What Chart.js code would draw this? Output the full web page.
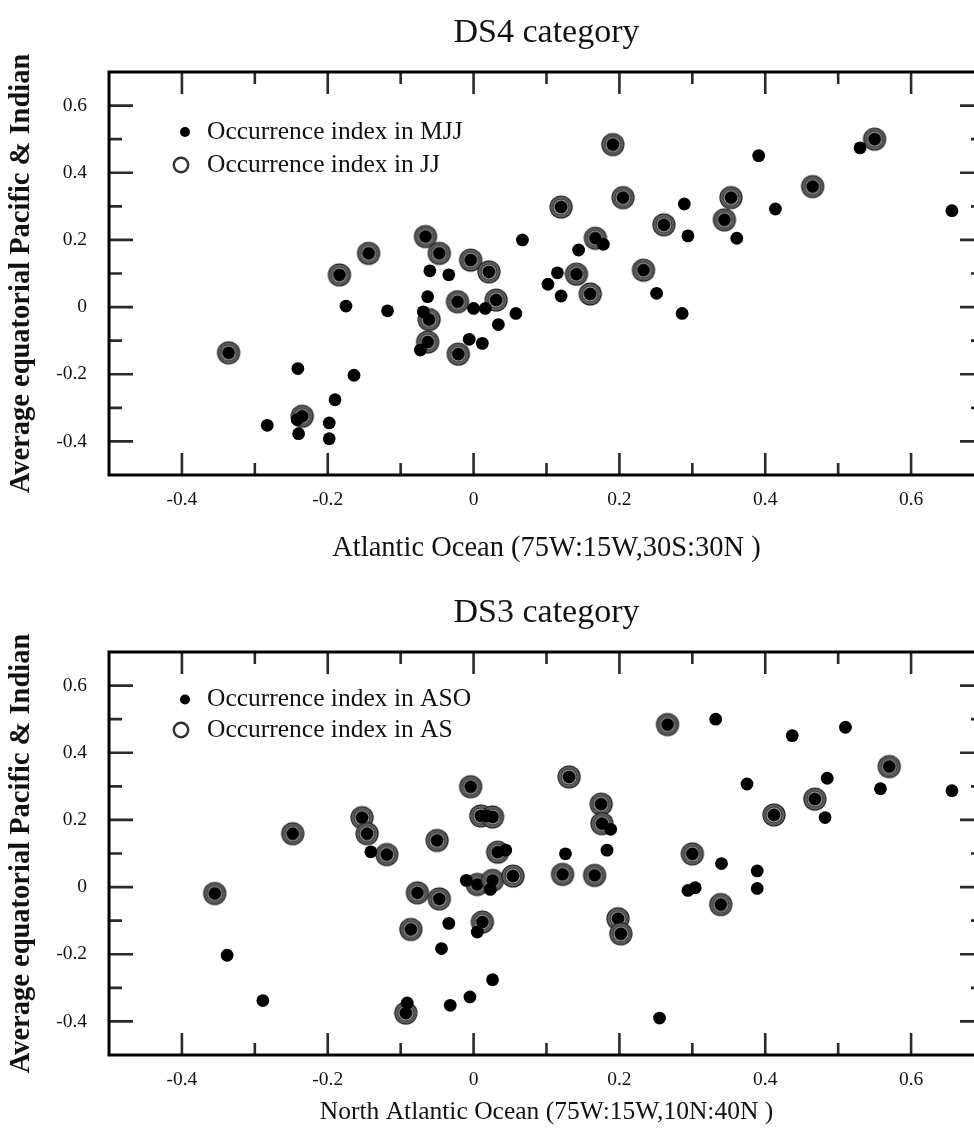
<!DOCTYPE html>
<html><head><meta charset="utf-8">
<script src="https://cdn.jsdelivr.net/npm/chart.js@4.4.1/dist/chart.umd.min.js"></script>
<style>
html,body{margin:0;padding:0;background:#fff;overflow:hidden;width:974px;height:1132px;position:relative;}
#w1{position:absolute;left:0;top:0;width:1000px;height:580px;}
#w2{position:absolute;left:0;top:580px;width:1000px;height:552px;}
canvas{display:block;}
</style></head><body>
<div id="w1"><canvas id="c1" width="1000" height="580"></canvas></div>
<div id="w2"><canvas id="c2" width="1000" height="552"></canvas></div>
<script>
// ---- tick values ----
const xTicks = [-0.4, -0.2, 0, 0.2, 0.4, 0.6];
const yTicks = [-0.4, -0.2, 0, 0.2, 0.4, 0.6];
const xMinor = [-0.3, -0.1, 0.1, 0.3, 0.5];
const yMinor = [-0.3, -0.1, 0.1, 0.3, 0.5];

// ---- DS4 category ----
const ds4MJJx = [-0.283,-0.242,-0.240,-0.241,-0.198,-0.198,-0.190,-0.164,-0.175,-0.118,-0.073,-0.069,-0.063,-0.060,-0.034,-0.006,0.000,0.016,0.012,0.034,0.058,0.067,0.102,0.115,0.120,0.144,0.178,0.251,0.286,0.289,0.294,0.361,0.391,0.414,0.530,0.656];
const ds4MJJy = [-0.352,-0.335,-0.377,-0.183,-0.345,-0.392,-0.276,-0.203,0.003,-0.011,-0.128,-0.014,0.031,0.108,0.096,-0.096,-0.004,-0.004,-0.108,-0.052,-0.019,0.200,0.068,0.102,0.033,0.170,0.187,0.041,-0.019,0.307,0.212,0.205,0.451,0.292,0.474,0.287];
const ds4JJx = [-0.336,-0.235,-0.184,-0.144,-0.066,-0.047,-0.004,0.021,-0.022,0.031,-0.061,-0.063,-0.021,0.120,0.191,0.205,0.167,0.141,0.160,0.233,0.261,0.344,0.353,0.465,0.550];
const ds4JJy = [-0.136,-0.325,0.096,0.160,0.210,0.160,0.140,0.105,0.016,0.021,-0.037,-0.104,-0.140,0.298,0.484,0.326,0.205,0.098,0.039,0.110,0.245,0.260,0.326,0.359,0.500];

// ---- DS3 category ----
const ds3ASOx = [-0.338,-0.289,-0.141,-0.091,-0.044,-0.034,-0.032,-0.010,-0.005,0.005,0.018,0.023,0.026,0.044,0.126,0.183,0.188,0.255,0.294,0.304,0.332,0.340,0.375,0.389,0.389,0.437,0.482,0.485,0.510,0.558,0.656];
const ds3ASOy = [-0.203,-0.338,0.105,-0.345,-0.183,-0.108,-0.352,0.020,-0.327,-0.134,0.212,-0.007,-0.276,0.110,0.099,0.110,0.172,-0.390,-0.010,-0.002,0.500,0.070,0.307,0.048,-0.004,0.451,0.207,0.324,0.476,0.293,0.287];
const ds3ASx = [-0.355,-0.248,-0.153,-0.146,-0.119,-0.077,-0.050,-0.047,-0.086,-0.093,-0.004,0.010,0.026,0.033,0.005,0.026,0.054,0.012,0.131,0.122,0.166,0.175,0.176,0.198,0.202,0.266,0.300,0.339,0.412,0.468,0.570];
const ds3ASy = [-0.019,0.159,0.207,0.159,0.097,-0.017,0.139,-0.035,-0.126,-0.375,0.299,0.212,0.209,0.104,0.008,0.020,0.033,-0.104,0.328,0.038,0.035,0.247,0.189,-0.094,-0.139,0.484,0.099,-0.052,0.215,0.262,0.359];

const SERIF = '"Liberation Serif", "Times New Roman", serif';
const yTitle = 'Average equatorial Pacific & Indian';

function pts(xs, ys){ return xs.map((x,i)=>({x:x, y:ys[i]})); }

function ringMarker(){
  const c = document.createElement('canvas'); c.width = 26; c.height = 26;
  const g = c.getContext('2d');
  const circ = (r,col)=>{ g.beginPath(); g.arc(13,13,r,0,Math.PI*2); g.fillStyle=col; g.fill(); };
  circ(11.6,'#1c1c1c'); circ(10.6,'#5c5c5c'); circ(8.3,'#2a2a2a'); circ(7.5,'#b0b0b0'); circ(6.5,'#000');
  return c;
}
const RING = ringMarker();

const framePlugin = {
  id: 'frameTicks',
  afterDatasetsDraw(chart){
    const {ctx, chartArea:a, scales:{x, y}} = chart;
    ctx.save();
    ctx.strokeStyle = '#2a2a2a'; ctx.lineWidth = 2.6; ctx.lineCap = 'butt';
    const vx = (v, len) => { const p = x.getPixelForValue(v);
      ctx.beginPath(); ctx.moveTo(p, a.bottom); ctx.lineTo(p, a.bottom - len);
      ctx.moveTo(p, a.top); ctx.lineTo(p, a.top + len); ctx.stroke(); };
    const vy = (v, len) => { const p = y.getPixelForValue(v);
      ctx.beginPath(); ctx.moveTo(a.left, p); ctx.lineTo(a.left + len, p);
      ctx.moveTo(a.right, p); ctx.lineTo(a.right - len, p); ctx.stroke(); };
    xTicks.forEach(v=>vx(v,22)); xMinor.forEach(v=>vx(v,12));
    yTicks.forEach(v=>vy(v,24)); yMinor.forEach(v=>vy(v,13));
    ctx.strokeStyle = '#000'; ctx.lineWidth = 3;
    ctx.strokeRect(a.left, a.top, a.right - a.left, a.bottom - a.top);
    ctx.restore();
  }
};

const legendPlugin = {
  id: 'ptLegend',
  afterDraw(chart, args, o){
    const ctx = chart.ctx;
    ctx.save();
    ctx.font = '25.5px ' + SERIF; ctx.textBaseline = 'middle'; ctx.textAlign = 'left';
    ctx.beginPath(); ctx.arc(o.dotX, o.y1, 5, 0, Math.PI*2); ctx.fillStyle = '#000'; ctx.fill();
    ctx.fillStyle = '#111'; ctx.fillText(o.labels[0], o.textX, o.y1);
    ctx.beginPath(); ctx.arc(o.ringX, o.y2, 7.2, 0, Math.PI*2); ctx.lineWidth = 2.4; ctx.strokeStyle = '#333'; ctx.stroke();
    ctx.fillText(o.labels[1], o.textX, o.y2);
    ctx.restore();
  }
};

function makeChart(id, H, title, xTitle, dotData, ringData, labels, leg, xTitleSize, xTitlePad){
  return new Chart(document.getElementById(id), {
    type: 'scatter',
    data: { datasets: [
      { label: labels[0], data: dotData, pointRadius: 6.4, pointHoverRadius: 6.4, backgroundColor: '#000', borderWidth: 0, pointStyle: 'circle' },
      { label: labels[1], data: ringData, pointRadius: 12, pointHoverRadius: 12, pointStyle: RING, backgroundColor: '#000', borderWidth: 0 }
    ]},
    options: {
      responsive: false, animation: false, devicePixelRatio: 1, events: [],
      layout: { padding: { left: 0, right: 16, top: 0, bottom: 0 } },
      plugins: {
        legend: { display: false }, tooltip: { enabled: false },
        title: { display: true, fullSize: false, text: title, color: '#111', font: { family: SERIF, size: 34, weight: 'normal', lineHeight: 1.2 }, padding: { top: 13, bottom: 18.2 } },
        ptLegend: Object.assign({ labels: labels }, leg)
      },
      scales: {
        x: { type: 'linear', position: 'bottom', min: -0.5, max: 0.7,
          afterBuildTicks: s => { s.ticks = xTicks.map(v => ({ value: v })); },
          afterFit: s => { s.height = H - 475; },
          grid: { display: false, drawTicks: false }, border: { display: false },
          ticks: { color: '#111', padding: 13, font: { family: SERIF, size: 19.5 }, callback: v => String(v), maxRotation: 0, autoSkip: false },
          title: { display: true, text: xTitle, color: '#111', font: { family: SERIF, size: xTitleSize, lineHeight: 1.2 }, padding: { top: 0, bottom: xTitlePad } }
        },
        y: { type: 'linear', position: 'left', min: -0.5, max: 0.7,
          afterBuildTicks: s => { s.ticks = yTicks.map(v => ({ value: v })); },
          afterFit: s => { s.width = 109; },
          grid: { display: false, drawTicks: false }, border: { display: false },
          ticks: { color: '#111', padding: 22, font: { family: SERIF, size: 19.5 }, callback: v => String(v), autoSkip: false },
          title: { display: true, text: yTitle, color: '#111', font: { family: SERIF, size: 28.5, weight: 'bold', lineHeight: 1.2 }, padding: { top: 5, bottom: 0 } }
        }
      }
    },
    plugins: [framePlugin, legendPlugin]
  });
}

makeChart('c1', 580, 'DS4 category', 'Atlantic Ocean (75W:15W,30S:30N )',
  pts(ds4MJJx, ds4MJJy), pts(ds4JJx, ds4JJy),
  ['Occurrence index in MJJ', 'Occurrence index in JJ'],
  { dotX: 185, ringX: 181, textX: 207, y1: 132, y2: 165 }, 28.5, 14);

makeChart('c2', 552, 'DS3 category', 'North Atlantic Ocean (75W:15W,10N:40N )',
  pts(ds3ASOx, ds3ASOy), pts(ds3ASx, ds3ASy),
  ['Occurrence index in ASO', 'Occurrence index in AS'],
  { dotX: 185, ringX: 181, textX: 207, y1: 119.5, y2: 150 }, 25.5, 4.7);
</script>
</body></html>
